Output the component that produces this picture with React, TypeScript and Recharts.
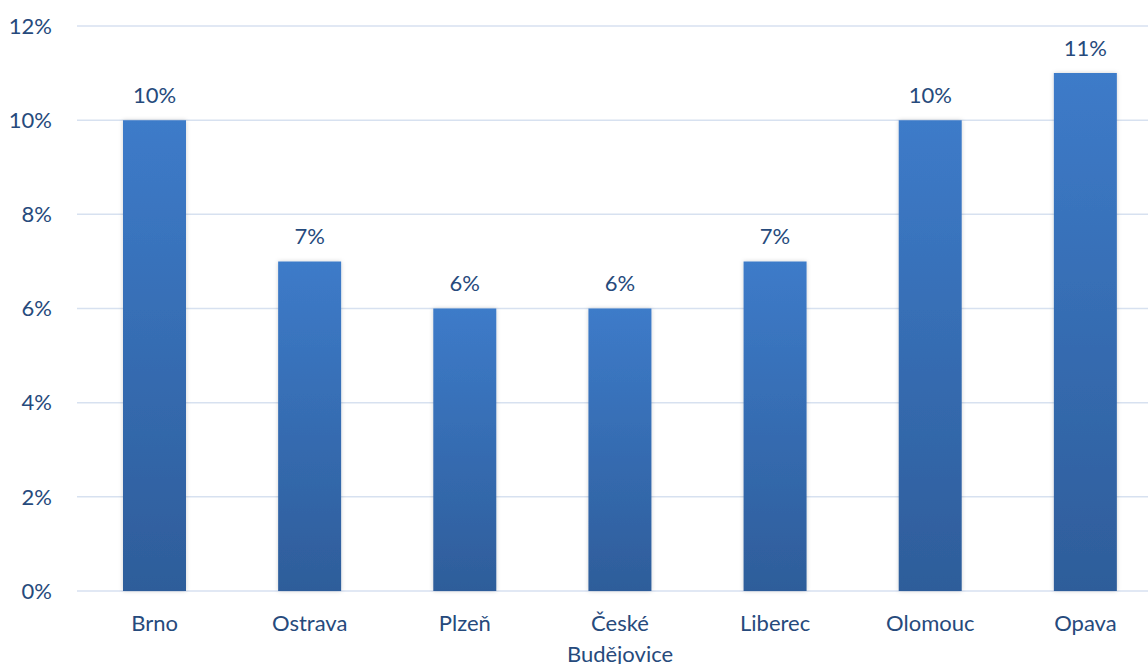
import React from 'react';
import { BarChart, Bar, XAxis, YAxis, CartesianGrid, LabelList } from 'recharts';

const CITIES = ['Brno', 'Ostrava', 'Plzeň', 'České Budějovice', 'Liberec', 'Olomouc', 'Opava'];
const SHARES = [10, 7, 6, 6, 7, 10, 11];
const Y_TICKS = [0, 2, 4, 6, 8, 10, 12];

const data = CITIES.map((city, i) => ({ city, share: SHARES[i] }));

const TEXT = '#264a7c';
const FONT = 'Lato, "Open Sans", sans-serif';
const FONT_SIZE = 22;

// x labels wrap onto two lines like the original ("České / Budějovice")
const CityTick = ({ x, y, payload }: any) => {
  const words = String(payload.value).split(' ');
  return (
    <text x={x} y={y + 23} textAnchor='middle' fill={TEXT} fontSize={FONT_SIZE} fontFamily={FONT} dominantBaseline='central'>
      {words.map((w, i) => (
        <tspan key={w} x={x} dy={i === 0 ? 0 : 31}>
          {w}
        </tspan>
      ))}
    </text>
  );
};

const ValueLabel = ({ x, y, width, value }: any) => (
  <text x={x + width / 2} y={y - 26} textAnchor='middle' dominantBaseline='central' fill={TEXT} fontSize={FONT_SIZE} fontFamily={FONT}>
    {`${value}%`}
  </text>
);

export default function App() {
  return (
    <div style={{ position: 'absolute', left: 0, top: 0, width: 1148, height: 664, overflow: 'hidden', background: '#fff' }}>
      <BarChart width={1171} height={664} data={data} margin={{ top: 26, right: 8, bottom: 0, left: 0 }}>
        <defs>
          <linearGradient id='barFill' x1='0' y1='0' x2='0' y2='1'>
            <stop offset='0%' stopColor='#3d7bc9' />
            <stop offset='100%' stopColor='#2e5d9a' />
          </linearGradient>
          <filter id='barShadow' x='-20%' y='-5%' width='140%' height='110%'>
            <feDropShadow dx='0' dy='0' stdDeviation='2' floodColor='#000' floodOpacity='0.18' />
          </filter>
        </defs>
        <CartesianGrid vertical={false} stroke='#d7e1f0' strokeWidth={1.5} />
        <XAxis dataKey='city' axisLine={false} tickLine={false} height={73} interval={0} tick={<CityTick />} />
        <YAxis
          domain={[0, 12]}
          ticks={Y_TICKS}
          width={77}
          axisLine={false}
          tickLine={false}
          tickSize={0}
          tickMargin={25}
          tickFormatter={(v) => `${v}%`}
          tick={{ fill: TEXT, fontSize: FONT_SIZE, fontFamily: FONT }}
        />
        <Bar dataKey='share' fill='url(#barFill)' barSize={63} isAnimationActive={false} style={{ filter: 'url(#barShadow)' }}>
          <LabelList dataKey='share' content={<ValueLabel />} />
        </Bar>
      </BarChart>
    </div>
  );
}
